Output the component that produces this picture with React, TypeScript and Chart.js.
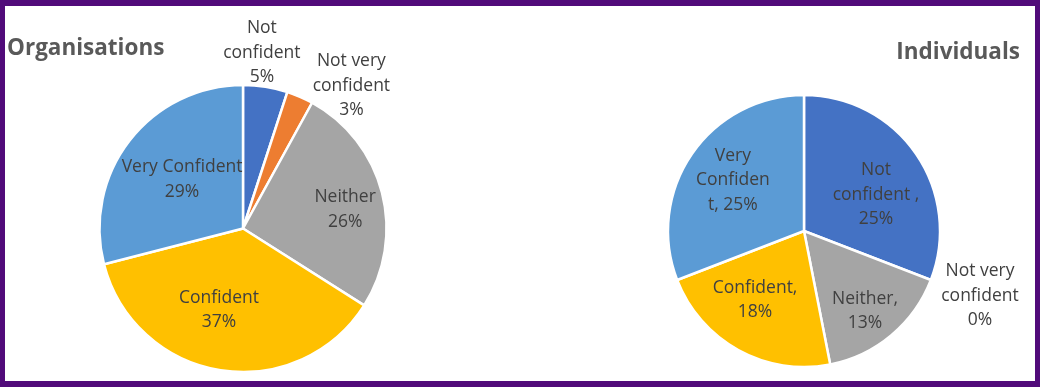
import React, { useEffect, useRef } from "react";
import { Chart, registerables } from "chart.js";

Chart.register(...registerables);

// ---- data ----
const categories = ["Not confident", "Not very confident", "Neither", "Confident", "Very Confident"];
const orgValues = [5, 3, 26, 37, 29];
const indValues = [25, 0, 13, 18, 25];
const sliceColors = ["#4472C4", "#ED7D31", "#A5A5A5", "#FFC000", "#5B9BD5"];

// label text templates ({v} = value)
const orgLabelTemplates = [
  "Not\nconfident\n{v}%",
  "Not very\nconfident\n{v}%",
  "Neither\n{v}%",
  "Confident\n{v}%",
  "Very Confident\n{v}%",
];
const indLabelTemplates = [
  "Not\nconfident ,\n{v}%",
  "Not very\nconfident\n{v}%",
  "Neither,\n{v}%",
  "Confident,\n{v}%",
  "Very\nConfiden\nt, {v}%",
];

// label placement: [radius factor, angle shift in degrees]
const orgLabelPlace = [
  [1.237, -2.9],
  [1.255, 13.6],
  [0.725, 3.4],
  [0.585, 7.6],
  [0.55, 1.7],
];
const indLabelPlace = [
  [0.595, 7.2],
  [1.376, -1.2],
  [0.733, 2.3],
  [0.615, 6.9],
  [0.647, 1.6],
];

const FONT = "'Open Sans', 'Noto Sans', sans-serif";
const W = 1040;
const H = 387;

function makeLabelPlugin(templates: string[], place: number[][], title: string, titleAlign: "left" | "right", titleX: number, titleY: number) {
  return {
    id: "pieLabels",
    afterDatasetsDraw(chart: any) {
      const ctx = chart.ctx;
      const meta = chart.getDatasetMeta(0);
      const values = chart.data.datasets[0].data as number[];
      ctx.save();
      ctx.fillStyle = "#404040";
      ctx.font = `17.5px ${FONT}`;
      ctx.textAlign = "center";
      ctx.textBaseline = "alphabetic";
      meta.data.forEach((arc: any, i: number) => {
        const p = arc.getProps(["x", "y", "startAngle", "endAngle", "outerRadius"], true);
        const [f, shift] = place[i];
        const mid = (p.startAngle + p.endAngle) / 2 + (shift * Math.PI) / 180;
        const r = p.outerRadius * f;
        const cx = p.x + Math.cos(mid) * r;
        const cy = p.y + Math.sin(mid) * r;
        const lines = templates[i].replace("{v}", String(values[i])).split("\n");
        const lh = 24.5;
        const top = cy - ((lines.length - 1) * lh) / 2;
        lines.forEach((ln, k) => {
          ctx.fillText(ln, cx, top + k * lh + 6);
        });
      });
      ctx.font = `bold 22.5px ${FONT}`;
      ctx.fillStyle = "#595959";
      ctx.textAlign = titleAlign;
      ctx.fillText(title, titleX, titleY);
      ctx.restore();
    },
  };
}

function PieCanvas(props: {
  values: number[];
  radius: number;
  padding: { left: number; right: number; top: number; bottom: number };
  templates: string[];
  place: number[][];
  title: string;
  titleAlign: "left" | "right";
  titleX: number;
  titleY: number;
}) {
  const ref = useRef<HTMLCanvasElement | null>(null);
  useEffect(() => {
    if (!ref.current) return;
    const chart = new Chart(ref.current, {
      type: "pie",
      data: {
        labels: categories,
        datasets: [
          {
            data: props.values,
            backgroundColor: sliceColors,
            borderColor: "#ffffff",
            borderWidth: 2.5,
            radius: props.radius,
          } as any,
        ],
      },
      options: {
        responsive: false,
        animation: false,
        events: [],
        layout: { padding: props.padding },
        plugins: {
          legend: { display: false },
          tooltip: { enabled: false },
          title: { display: false },
        },
      },
      plugins: [makeLabelPlugin(props.templates, props.place, props.title, props.titleAlign, props.titleX, props.titleY)],
    });
    return () => chart.destroy();
  }, []);
  return (
    <canvas
      ref={ref}
      width={W}
      height={H}
      style={{ position: "absolute", left: 0, top: 0, width: W, height: H }}
    />
  );
}

export default function App() {
  useEffect(() => {
    document.body.style.margin = "0";
  }, []);
  return (
    <div style={{ position: "relative", width: W, height: H, background: "#ffffff", overflow: "hidden" }}>
      <PieCanvas
        values={orgValues}
        radius={143.5}
        padding={{ left: 0, right: W - 486, top: 70, bottom: 0 }}
        templates={orgLabelTemplates}
        place={orgLabelPlace}
        title="Organisations"
        titleAlign="left"
        titleX={7}
        titleY={55}
      />
      <PieCanvas
        values={indValues}
        radius={136}
        padding={{ left: 568, right: 0, top: 75, bottom: 0 }}
        templates={indLabelTemplates}
        place={indLabelPlace}
        title="Individuals"
        titleAlign="right"
        titleX={1020}
        titleY={59}
      />
      <div
        style={{
          position: "absolute",
          left: 0,
          top: 0,
          width: W,
          height: H,
          boxSizing: "border-box",
          borderStyle: "solid",
          borderColor: "#510b7a",
          borderWidth: "6px 5px 6px 5px",
          pointerEvents: "none",
        }}
      />
    </div>
  );
}
